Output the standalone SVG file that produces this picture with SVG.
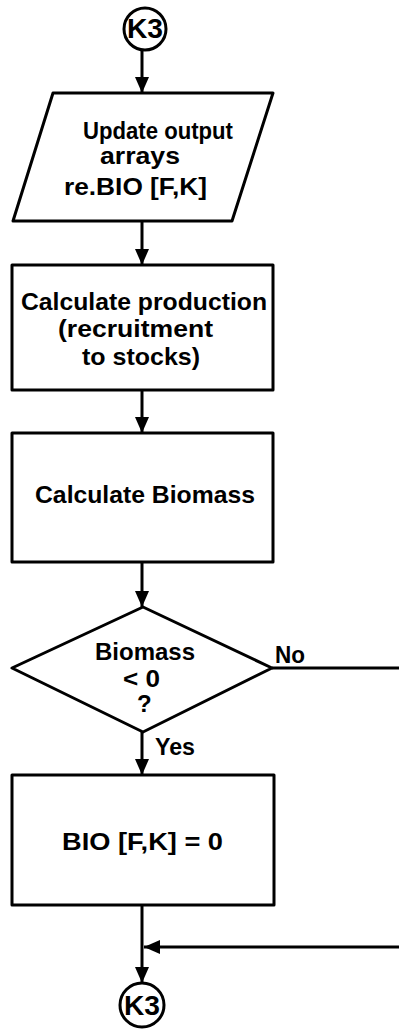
<svg xmlns="http://www.w3.org/2000/svg" width="399" height="1033" viewBox="0 0 399 1033">
  <style>
    .shape { fill: #ffffff; stroke: #000000; stroke-width: 3; stroke-linejoin: round; }
    .line { fill: none; stroke: #000000; stroke-width: 3; }
    text { font-family: "Liberation Sans", Arial, sans-serif; font-weight: bold; font-size: 24px; fill: #000000; }
    .conn { font-size: 27px; }
  </style>
  <defs>
    <marker id="arrow" markerUnits="userSpaceOnUse" markerWidth="17" markerHeight="16" refX="16" refY="8" orient="auto">
      <path d="M0,1 L16,8 L0,15 z" fill="#000000"/>
    </marker>
  </defs>
  <rect width="399" height="1033" fill="#ffffff"/>

  <!-- connectors -->
  <g id="connectors">
    <line class="line" x1="142" y1="50" x2="142" y2="93" marker-end="url(#arrow)"/>
    <line class="line" x1="142" y1="221" x2="142" y2="265" marker-end="url(#arrow)"/>
    <line class="line" x1="142" y1="390" x2="142" y2="433" marker-end="url(#arrow)"/>
    <line class="line" x1="142" y1="562" x2="142" y2="607" marker-end="url(#arrow)"/>
    <line class="line" x1="142" y1="732" x2="142" y2="775" marker-end="url(#arrow)"/>
    <line class="line" x1="142" y1="905" x2="142" y2="983" marker-end="url(#arrow)"/>
    <line class="line" x1="272" y1="668" x2="399" y2="668"/>
    <line class="line" x1="399" y1="947" x2="144" y2="947" marker-end="url(#arrow)"/>
    <text x="275" y="663" textLength="30" lengthAdjust="spacingAndGlyphs">No</text>
    <text x="155" y="755" textLength="40" lengthAdjust="spacingAndGlyphs">Yes</text>
  </g>

  <!-- entry connector -->
  <g id="k3-top">
    <circle class="shape" cx="145" cy="29" r="21"/>
    <text class="conn" x="127" y="38" textLength="36" lengthAdjust="spacingAndGlyphs">K3</text>
  </g>

  <!-- output step -->
  <g id="update-output">
    <polygon class="shape" points="53,93 273,93 232,221 13,221"/>
    <text x="83" y="139" textLength="150" lengthAdjust="spacingAndGlyphs">Update output</text>
    <text x="100" y="164" textLength="80" lengthAdjust="spacingAndGlyphs">arrays</text>
    <text x="64" y="195" textLength="143" lengthAdjust="spacingAndGlyphs">re.BIO [F,K]</text>
  </g>

  <g id="calc-production">
    <rect class="shape" x="12" y="265" width="261" height="125"/>
    <text x="21" y="310" textLength="246" lengthAdjust="spacingAndGlyphs">Calculate production</text>
    <text x="58" y="337" textLength="155" lengthAdjust="spacingAndGlyphs">(recruitment</text>
    <text x="82" y="365" textLength="118" lengthAdjust="spacingAndGlyphs">to stocks)</text>
  </g>

  <g id="calc-biomass">
    <rect class="shape" x="12" y="433" width="261" height="129"/>
    <text x="35" y="503" textLength="220" lengthAdjust="spacingAndGlyphs">Calculate Biomass</text>
  </g>

  <g id="biomass-test">
    <polygon class="shape" points="143,607 272,668 143,732 12,668"/>
    <text x="95" y="660" textLength="100" lengthAdjust="spacingAndGlyphs">Biomass</text>
    <text x="123" y="687" textLength="37" lengthAdjust="spacingAndGlyphs">&lt; 0</text>
    <text x="137" y="712">?</text>
  </g>

  <g id="set-zero">
    <rect class="shape" x="12" y="775" width="262" height="130"/>
    <text x="62" y="850" textLength="161" lengthAdjust="spacingAndGlyphs">BIO [F,K] = 0</text>
  </g>

  <!-- exit connector -->
  <g id="k3-bottom">
    <circle class="shape" cx="142" cy="1005" r="22"/>
    <text class="conn" x="124" y="1015" textLength="36" lengthAdjust="spacingAndGlyphs">K3</text>
  </g>
</svg>
